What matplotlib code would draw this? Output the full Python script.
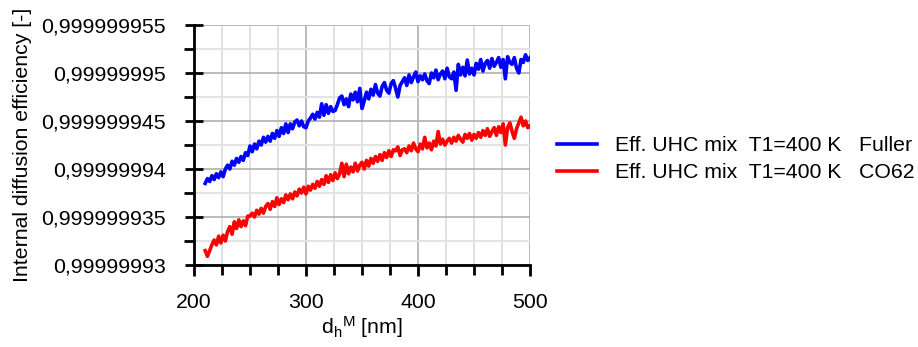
import numpy as np
import matplotlib
matplotlib.use("Agg")
import matplotlib.pyplot as plt
from matplotlib.ticker import MultipleLocator, FuncFormatter

plt.rcParams['font.family'] = ['Liberation Sans', 'DejaVu Sans']
plt.rcParams['mathtext.fontset'] = 'custom'
plt.rcParams['mathtext.rm'] = 'Liberation Sans'
plt.rcParams['mathtext.it'] = 'Liberation Sans:italic'

# Hydraulic diameter grid [nm]
d_h = np.arange(210, 501, 2)

# Efficiency above BASE, in units of 1e-9
BASE = 0.99999993
fuller_1e9 = [
    8.5, 9.0, 8.7, 9.3, 8.9, 9.5, 9.1, 9.7, 9.2, 10.0,
    10.4, 10.0, 10.8, 10.4, 11.1, 10.7, 11.3, 10.9, 11.7, 11.4,
    12.4, 11.8, 12.6, 12.1, 12.9, 12.5, 13.3, 12.8, 13.4, 12.9,
    13.7, 13.2, 14.0, 13.4, 14.3, 13.7, 14.7, 13.8, 14.7, 14.2,
    14.9, 15.1, 14.5, 15.0, 14.4, 14.3, 15.0, 15.3, 15.7, 15.2,
    15.9, 15.4, 16.8, 15.6, 16.7, 15.8, 16.5, 16.0, 16.1, 16.7,
    17.4, 17.6, 16.7, 17.3, 16.5, 17.8, 17.2, 18.0, 17.0, 18.4,
    16.3, 17.1, 18.0, 17.3, 18.3, 17.7, 18.8, 17.9, 17.6, 18.6,
    19.0, 18.2, 17.9, 18.9, 19.2, 18.4, 17.5, 18.7, 19.1, 19.5,
    18.7, 19.8, 19.0, 19.6, 20.1, 19.1, 19.7, 19.3, 19.9, 19.2,
    18.9, 20.0, 19.5, 20.3, 19.3, 19.9, 20.2, 19.4, 20.5, 19.6,
    19.4, 20.1, 18.2, 20.9, 19.8, 20.6, 19.7, 21.35, 19.9, 20.5,
    19.8, 21.0, 20.4, 21.4, 20.2, 21.0, 21.3, 20.5, 21.5, 20.7,
    21.1, 21.6, 20.6, 21.4, 19.4, 21.7, 21.1, 20.9, 21.6, 20.5,
    20.0, 21.4, 21.1, 21.9, 21.3, 21.6,
]
co62_1e9 = [
    1.5, 0.9, 1.5, 2.1, 2.6, 2.1, 3.0, 2.3, 3.1, 2.5,
    3.5, 4.0, 3.2, 4.5, 3.8, 4.7, 4.0, 4.6, 4.1, 5.1,
    5.1, 5.4, 5.0, 5.7, 5.3, 5.9, 5.4, 6.1, 6.4, 5.8,
    6.6, 6.1, 7.0, 6.3, 6.9, 6.5, 7.3, 6.8, 7.4, 6.9,
    7.6, 7.2, 7.9, 7.5, 8.1, 7.4, 8.2, 7.8, 8.4, 8.0,
    8.7, 8.2, 8.9, 8.4, 9.3, 8.6, 9.4, 8.8, 9.6, 9.0,
    9.5, 10.6, 9.2, 10.5, 9.5, 10.2, 9.7, 10.6, 9.8, 10.4,
    10.7, 10.0, 10.9, 10.3, 11.1, 10.6, 11.3, 10.8, 11.5, 10.9,
    11.7, 11.2, 11.9, 11.3, 12.0, 11.9, 12.3, 11.4, 12.0, 12.1,
    11.7, 12.4, 11.9, 12.7, 12.1, 11.8, 12.6, 12.1, 13.3, 12.2,
    12.7, 12.0, 12.9, 12.4, 13.9, 12.6, 13.1, 12.5, 12.9, 13.2,
    12.7, 13.3, 12.9, 13.5, 13.1, 12.8, 13.6, 13.2, 13.7, 13.0,
    13.6, 13.2, 13.8, 13.3, 14.0, 13.5, 14.2, 13.4, 13.9, 14.3,
    13.5, 14.4, 13.8, 14.7, 12.5, 14.3, 14.8, 13.9, 13.2, 14.2,
    14.8, 15.4, 14.5, 15.0, 14.3, 14.5,
]
labels = ["Eff. UHC mix  T1=400 K   Fuller", "Eff. UHC mix  T1=400 K   CO62"]
colors = ["#0000ff", "#ff0000"]

eff_fuller = BASE + np.array(fuller_1e9) * 1e-9
eff_co62 = BASE + np.array(co62_1e9) * 1e-9

FS = 15.3
W, H = 918, 347
fig = plt.figure(figsize=(W / 100, H / 100), dpi=100)
ax = fig.add_axes([194 / W, 1 - 265 / H, (530 - 194) / W, (265 - 25) / H])

ax.plot(d_h, eff_fuller, color=colors[0], lw=2.6, label=labels[0])
ax.plot(d_h, eff_co62, color=colors[1], lw=2.6, label=labels[1])

ax.set_xlim(200, 500)
ax.set_ylim(0.99999993, 0.999999955)

ax.xaxis.set_major_locator(MultipleLocator(100))
ax.xaxis.set_minor_locator(MultipleLocator(25))
ax.yaxis.set_major_locator(MultipleLocator(5e-9))
ax.yaxis.set_minor_locator(MultipleLocator(2.5e-9))


def comma_fmt(v, pos):
    s = f"{v:.9f}".rstrip("0").rstrip(".")
    return s.replace(".", ",")


ax.yaxis.set_major_formatter(FuncFormatter(comma_fmt))

ax.grid(which="major", color="#b4b4b4", lw=1.3)
ax.grid(which="minor", color="#e3e3e3", lw=1.5)
ax.set_axisbelow(True)

for s in ("top", "right"):
    ax.spines[s].set_visible(False)
for s in ("left", "bottom"):
    ax.spines[s].set_linewidth(2.0)
    ax.spines[s].set_color("black")

ax.tick_params(axis="y", which="major", direction="inout", length=13, width=2,
               labelsize=FS, pad=14)
ax.tick_params(axis="y", which="minor", direction="out", length=7, width=2)
ax.tick_params(axis="x", which="major", direction="out", length=8, width=2,
               labelsize=FS, pad=12)
ax.tick_params(axis="x", which="minor", direction="out", length=7, width=2)

ax.set_ylabel("Internal diffusion efficiency [-]", fontsize=FS)
ax.yaxis.set_label_coords((32 - 194) / 336, 0.5)
ax.set_xlabel(r"d$_\mathrm{h}$$^\mathrm{M}$ [nm]", fontsize=FS, labelpad=2)

fig.legend(loc="upper left", bbox_to_anchor=(557 / W, 1 - 136 / H),
           frameon=False, fontsize=FS, handlelength=1.9, handletextpad=0.85,
           labelspacing=0.4, borderpad=0, borderaxespad=0)

fig.savefig("out.png", dpi=100)
